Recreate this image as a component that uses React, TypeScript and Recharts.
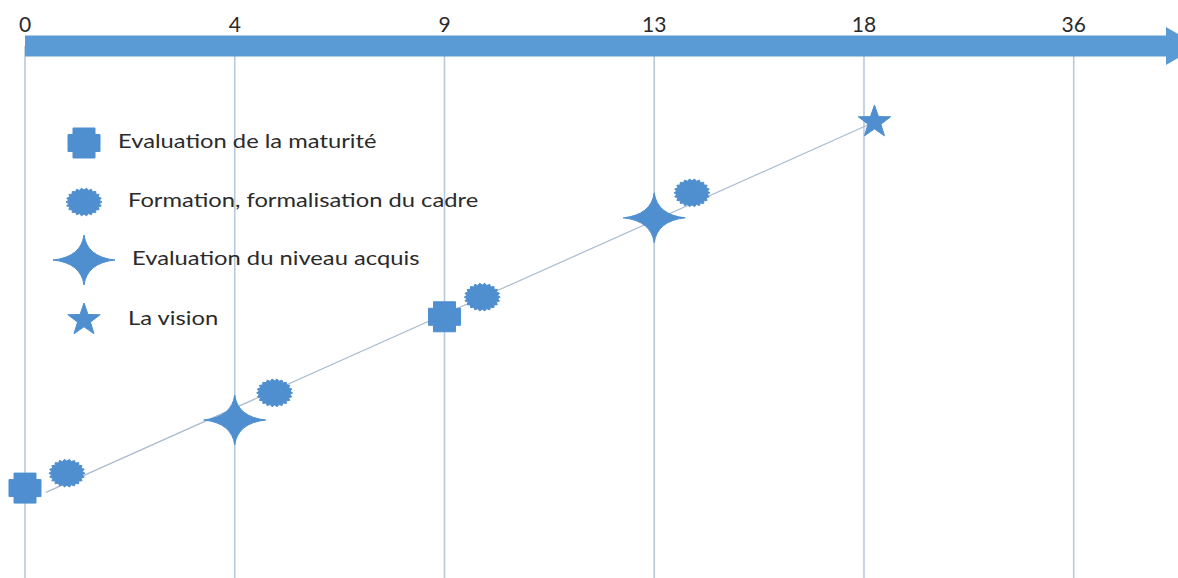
import { ScatterChart, Scatter, XAxis, YAxis, ReferenceLine, ReferenceDot, Legend } from "recharts";

// timeline (months) — drawn as evenly spaced milestones, like the original slide
const months = ["0", "4", "9", "13", "18", "36"];
const monthSlots = [0, 1, 2, 3, 4, 5];

// y = progression level (0-100)
const maturite = [
  { x: 0, y: 16.9 },
  { x: 2, y: 49.1 },
];
const formation = [
  { x: 0.2, y: 19.7 },
  { x: 1.19, y: 34.8 },
  { x: 2.18, y: 52.8 },
  { x: 3.18, y: 72.4 },
];
const niveau = [
  { x: 1, y: 29.7 },
  { x: 3, y: 67.7 },
];
const vision = [{ x: 4.05, y: 85.7 }];
const trajectoire = [
  { x: 0.1, y: 16.1 },
  { x: 4.05, y: 85.7 },
];

const legendOrder = [
  "Evaluation de la maturité",
  "Formation, formalisation du cadre",
  "Evaluation du niveau acquis",
  "La vision",
];

const BAR = "#5b9bd5";
const MARK = "#4f8fd0";
const GRID = "#b8c9dc";
const TEXT = "#2b2b2b";
const FONT = "Lato, 'Open Sans', sans-serif";

// ---- marker shapes ----
function plusPath(cx: number, cy: number) {
  const hw = 16, hh = 15, tx = 11, ty = 8.5;
  return `M${cx - tx},${cy - hh}H${cx + tx}V${cy - ty}H${cx + hw}V${cy + ty}H${cx + tx}V${cy + hh}H${cx - tx}V${cy + ty}H${cx - hw}V${cy - ty}H${cx - tx}Z`;
}

function sealPath(cx: number, cy: number) {
  const n = 22;
  const pts: string[] = [];
  for (let i = 0; i < n * 2; i++) {
    const a = (i * Math.PI) / n;
    const r = i % 2 ? 0.86 : 1;
    pts.push(`${cx + 18 * r * Math.cos(a)},${cy + 14 * r * Math.sin(a)}`);
  }
  return "M" + pts.join("L") + "Z";
}

function star4Path(cx: number, cy: number) {
  const w = 31, h = 25, c = 3;
  return (
    `M${cx + w},${cy}` +
    `Q${cx + c},${cy - c} ${cx},${cy - h}` +
    `Q${cx - c},${cy - c} ${cx - w},${cy}` +
    `Q${cx - c},${cy + c} ${cx},${cy + h}` +
    `Q${cx + c},${cy + c} ${cx + w},${cy}Z`
  );
}

function star5Path(cx: number, cy: number) {
  const R = 17, r = 6.8;
  const pts: string[] = [];
  for (let i = 0; i < 10; i++) {
    const a = -Math.PI / 2 + (i * Math.PI) / 5;
    const rr = i % 2 ? r : R;
    pts.push(`${cx + rr * Math.cos(a)},${cy + rr * Math.sin(a)}`);
  }
  return "M" + pts.join("L") + "Z";
}

const shapeFns: Record<string, (cx: number, cy: number) => string> = {
  "Evaluation de la maturité": plusPath,
  "Formation, formalisation du cadre": sealPath,
  "Evaluation du niveau acquis": star4Path,
  "La vision": star5Path,
};

const marker = (fn: (cx: number, cy: number) => string) => (props: any) => (
  <path d={fn(props.cx, props.cy)} fill={MARK} stroke={MARK} strokeWidth={1} strokeLinejoin="round" />
);

const ArrowHead = (props: any) => {
  const { cx, cy } = props;
  return <path d={`M${cx},${cy - 19}L${cx + 33},${cy}L${cx},${cy + 19}Z`} fill={BAR} />;
};

// legend rows: vertical position and text offset inside the legend box
const legendRows = [
  { y: 29, tx: 78 },
  { y: 88, tx: 88 },
  { y: 146, tx: 92 },
  { y: 206, tx: 88 },
];

const renderLegend = (props: any) => {
  const items = (props.payload || [])
    .filter((p: any) => shapeFns[p.value])
    .sort((a: any, b: any) => legendOrder.indexOf(a.value) - legendOrder.indexOf(b.value));
  return (
    <svg width={470} height={240}>
      {items.map((p: any, i: number) => {
        const row = legendRows[i];
        return (
          <g key={p.value}>
            <path d={shapeFns[p.value](44, row.y + 2)} fill={MARK} stroke={MARK} strokeWidth={1} strokeLinejoin="round" />
            <text
              transform={`translate(${row.tx},${row.y + 7}) scale(1.25,1)`}
              fill={TEXT}
              fontSize={19}
              fontFamily={FONT}
            >
              {p.value}
            </text>
          </g>
        );
      })}
    </svg>
  );
};

export default function App() {
  return (
    <div style={{ position: "absolute", left: 0, top: 0, width: 1178, height: 578, background: "#fff" }}>
      <ScatterChart width={1178} height={578} margin={{ top: 0, right: 12, bottom: 0, left: 25 }}>
        {monthSlots.map((s) => (
          <ReferenceLine key={s} x={s} stroke={GRID} strokeWidth={1.6} />
        ))}
        <XAxis
          type="number"
          dataKey="x"
          orientation="top"
          domain={[0, 5.44]}
          ticks={monthSlots}
          tickFormatter={(v: number) => months[v]}
          height={46}
          tickSize={0}
          tickMargin={14}
          tickLine={false}
          axisLine={{ stroke: BAR, strokeWidth: 21 }}
          tick={{ fill: TEXT, fontSize: 21, fontFamily: FONT }}
          interval={0}
        />
        <YAxis type="number" dataKey="y" domain={[0, 100]} hide />
        <Scatter
          name="trajectoire"
          data={trajectoire}
          line={{ stroke: "#a9bbcd", strokeWidth: 1.2 }}
          shape={() => <g />}
          legendType="none"
          isAnimationActive={false}
        />
        <Scatter name="Evaluation de la maturité" data={maturite} shape={marker(plusPath)} fill={MARK} isAnimationActive={false} />
        <Scatter name="Formation, formalisation du cadre" data={formation} shape={marker(sealPath)} fill={MARK} isAnimationActive={false} />
        <Scatter name="Evaluation du niveau acquis" data={niveau} shape={marker(star4Path)} fill={MARK} isAnimationActive={false} />
        <Scatter name="La vision" data={vision} shape={marker(star5Path)} fill={MARK} isAnimationActive={false} />
        <ReferenceDot x={5.44} y={100} r={0} ifOverflow="visible" shape={ArrowHead} />
        <Legend
          layout="horizontal"
          verticalAlign="middle"
          align="center"
          content={renderLegend}
          wrapperStyle={{ position: "absolute", left: 40, top: 112, width: 470, height: 240 }}
        />
      </ScatterChart>
    </div>
  );
}
